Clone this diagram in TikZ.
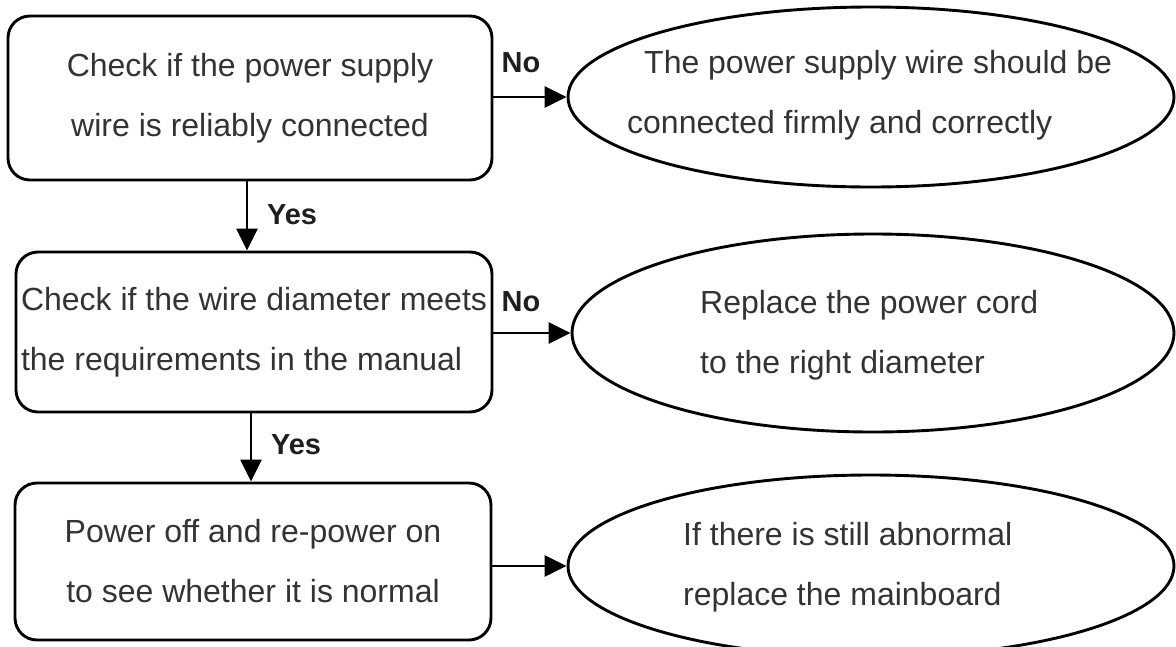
\documentclass[tikz,border=0pt]{standalone}
\usepackage{fontspec}
\setmainfont{Liberation Sans}
\usetikzlibrary{arrows.meta,shapes.geometric}
\definecolor{txt}{HTML}{333333}
\definecolor{lab}{HTML}{1E1E1E}
\begin{document}
\begin{tikzpicture}[x=1pt,y=-1pt,
  box/.style={draw=black, line width=2.9pt, rounded corners=22pt, align=center, text=txt,
              font=\fontsize{32}{60}\selectfont, inner sep=0pt},
  ellip/.style={draw=black, line width=2.9pt, ellipse, inner sep=0pt},
  etext/.style={align=left, text=txt, font=\fontsize{32}{60}\selectfont, inner sep=0pt, anchor=west},
  lbl/.style={font=\bfseries\fontsize{29}{32}\selectfont, text=lab, inner sep=0pt},
  arr/.style={line width=2.9pt, -{Triangle[length=22pt,width=21pt]}}]
\useasboundingbox (0,0) rectangle (1176,646);

% boxes
\node[box, minimum width=484pt, minimum height=164pt] (b1) at (250,98)
  {Check if the power supply\\wire is reliably connected};
\node[box, align=left, minimum width=476pt, minimum height=160pt] (b2) at (254,332)
  {Check if the wire diameter meets\\the requirements in the manual};
\node[box, minimum width=476pt, minimum height=157pt] (b3) at (253,561.5)
  {Power off and re-power on\\to see whether it is normal};

% ellipses
\node[ellip, minimum width=606pt, minimum height=180pt] (e1) at (871,97) {};
\node[ellip, minimum width=602pt, minimum height=198pt] (e2) at (873,333) {};
\node[ellip, minimum width=606pt, minimum height=182pt] (e3) at (871,566) {};

\node[etext] (t1) at (627,95)
  {\hspace*{17pt}The power supply wire should be\\connected firmly and correctly};
\node[etext] (t2) at (700,335)
  {Replace the power cord\\to the right diameter};
\node[etext] (t3) at (683,567)
  {If there is still abnormal\\replace the mainboard};

% connectors
\draw[arr] (e1.west -| b1.east) -- (e1.west);
\draw[arr] (e2.west -| b2.east) -- (e2.west);
\draw[arr] (e3.west -| b3.east) -- (e3.west);
\draw[arr] ([xshift=-3pt]b1.south) -- ([xshift=-3pt]b1.south |- b2.north);
\draw[arr] ([xshift=-3pt]b2.south) -- ([xshift=-3pt]b2.south |- b3.north);

% labels
\node[lbl] (n1) at (521,63) {No};
\node[lbl] (n2) at (521,302) {No};
\node[lbl] (y1) at (292,215) {Yes};
\node[lbl] (y2) at (296,445) {Yes};
\end{tikzpicture}
\end{document}
